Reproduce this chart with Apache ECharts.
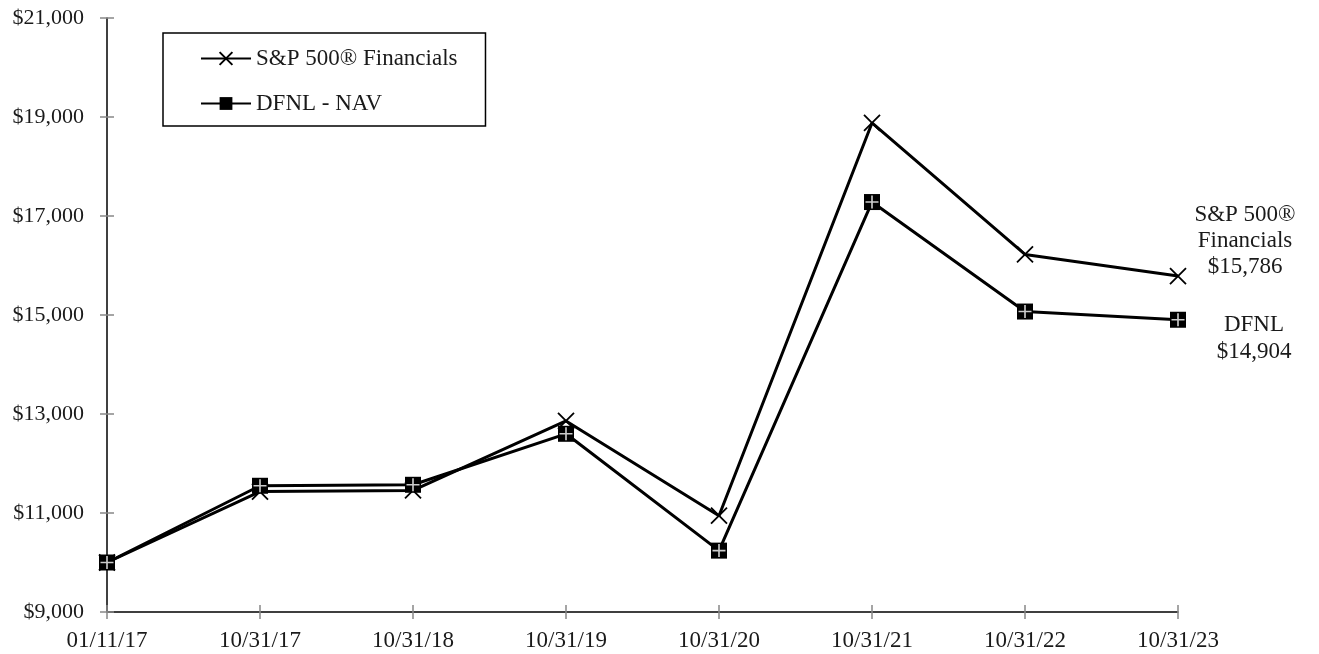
<!DOCTYPE html>
<html><head><meta charset="utf-8">
<script src="https://cdn.jsdelivr.net/npm/echarts@6/dist/echarts.min.js"></script>
<style>html,body{margin:0;padding:0;background:#fff}#c{width:1319px;height:654px}</style>
</head><body><div id="c"></div>
<script>
const categories = ['01/11/17','10/31/17','10/31/18','10/31/19','10/31/20','10/31/21','10/31/22','10/31/23'];
const spFinancials = [10000, 11434, 11455, 12860, 10945, 18880, 16224, 15786];
const dfnlNav = [10000, 11550, 11570, 12600, 10240, 17282, 15070, 14904];
const seriesNames = ['S&P 500® Financials', 'DFNL - NAV'];
const endLabelTexts = ['S&P 500®\nFinancials\n$15,786', 'DFNL\n$14,904'];
const yMin = 9000, yMax = 21000, yStep = 2000;

const FONT = 'Liberation Serif';
const TXT = '#1a1a1a';
const fmtDollar = v => '$' + v.toLocaleString('en-US');

const chart = echarts.init(document.getElementById('c'), null, {renderer: 'canvas'});
const xBase = {type: 'category', data: categories, boundaryGap: false, position: 'bottom', gridIndex: 0};
const yBase = {type: 'value', min: yMin, max: yMax, interval: yStep, position: 'left', gridIndex: 0};
chart.setOption({
  animation: false,
  backgroundColor: '#fff',
  grid: {left: 107, right: 141, top: 18, bottom: 42, containLabel: false},
  legend: {
    data: seriesNames,
    orient: 'vertical', left: 163, top: 33,
    padding: [14, 28, 11, 37],
    itemGap: 22, itemWidth: 50, itemHeight: 16,
    borderColor: '#000', borderWidth: 1.5,
    textStyle: {fontFamily: FONT, fontSize: 23, color: TXT}
  },
  xAxis: [
    Object.assign({}, xBase, {
      axisLine: {lineStyle: {color: '#000', width: 1.5}},
      axisTick: {show: true, inside: false, length: 7, alignWithLabel: true, lineStyle: {color: '#888', width: 1.5}},
      axisLabel: {fontFamily: FONT, fontSize: 23, color: TXT, margin: 17, interval: 0},
      splitLine: {show: false}
    }),
    Object.assign({}, xBase, {
      axisLine: {show: false},
      axisTick: {show: true, inside: true, length: 7, lineStyle: {color: '#888', width: 1.5}},
      axisLabel: {show: false}, splitLine: {show: false}
    })
  ],
  yAxis: [
    Object.assign({}, yBase, {
      axisLine: {show: true, lineStyle: {color: '#000', width: 1.5}},
      axisTick: {show: true, inside: false, length: 7, lineStyle: {color: '#888', width: 1.5}},
      axisLabel: {fontFamily: FONT, fontSize: 22, color: TXT, margin: 23, formatter: fmtDollar},
      splitLine: {show: false}
    }),
    Object.assign({}, yBase, {
      axisLine: {show: false},
      axisTick: {show: true, inside: true, length: 7, lineStyle: {color: '#888', width: 1.5}},
      axisLabel: {show: false}, splitLine: {show: false}
    })
  ],
  series: [
    {
      name: seriesNames[0], type: 'line', data: spFinancials,
      xAxisIndex: 0, yAxisIndex: 0, z: 2,
      symbol: 'path://M0,0L16,16M16,0L0,16', symbolSize: 16, showAllSymbol: true,
      lineStyle: {color: '#000', width: 3},
      itemStyle: {color: '#000', borderColor: '#000', borderWidth: 1.8},
      endLabel: {show: true, formatter: () => endLabelTexts[0], position: 'right', distance: 0,
        align: 'center', verticalAlign: 'middle', offset: [67, -35],
        fontFamily: FONT, fontSize: 23, lineHeight: 26, color: TXT},
      emphasis: {disabled: true}
    },
    {
      name: seriesNames[1], type: 'line', data: dfnlNav,
      xAxisIndex: 0, yAxisIndex: 0, z: 3,
      symbol: 'rect', symbolSize: 16, showAllSymbol: true,
      lineStyle: {color: '#000', width: 3},
      itemStyle: {color: '#000', borderWidth: 0},
      endLabel: {show: true, formatter: () => endLabelTexts[1], position: 'right', distance: 0,
        align: 'center', verticalAlign: 'middle', offset: [76, 19],
        fontFamily: FONT, fontSize: 23, lineHeight: 27, color: TXT},
      emphasis: {disabled: true}
    },
    {
      name: 'dfnl-plus', type: 'scatter', data: dfnlNav,
      xAxisIndex: 0, yAxisIndex: 0, z: 4, silent: true,
      symbol: 'path://M7,0h2v16h-2zM0,7h16v2h-16z', symbolSize: 13,
      itemStyle: {color: '#fff'}
    }
  ]
});
</script></body></html>
